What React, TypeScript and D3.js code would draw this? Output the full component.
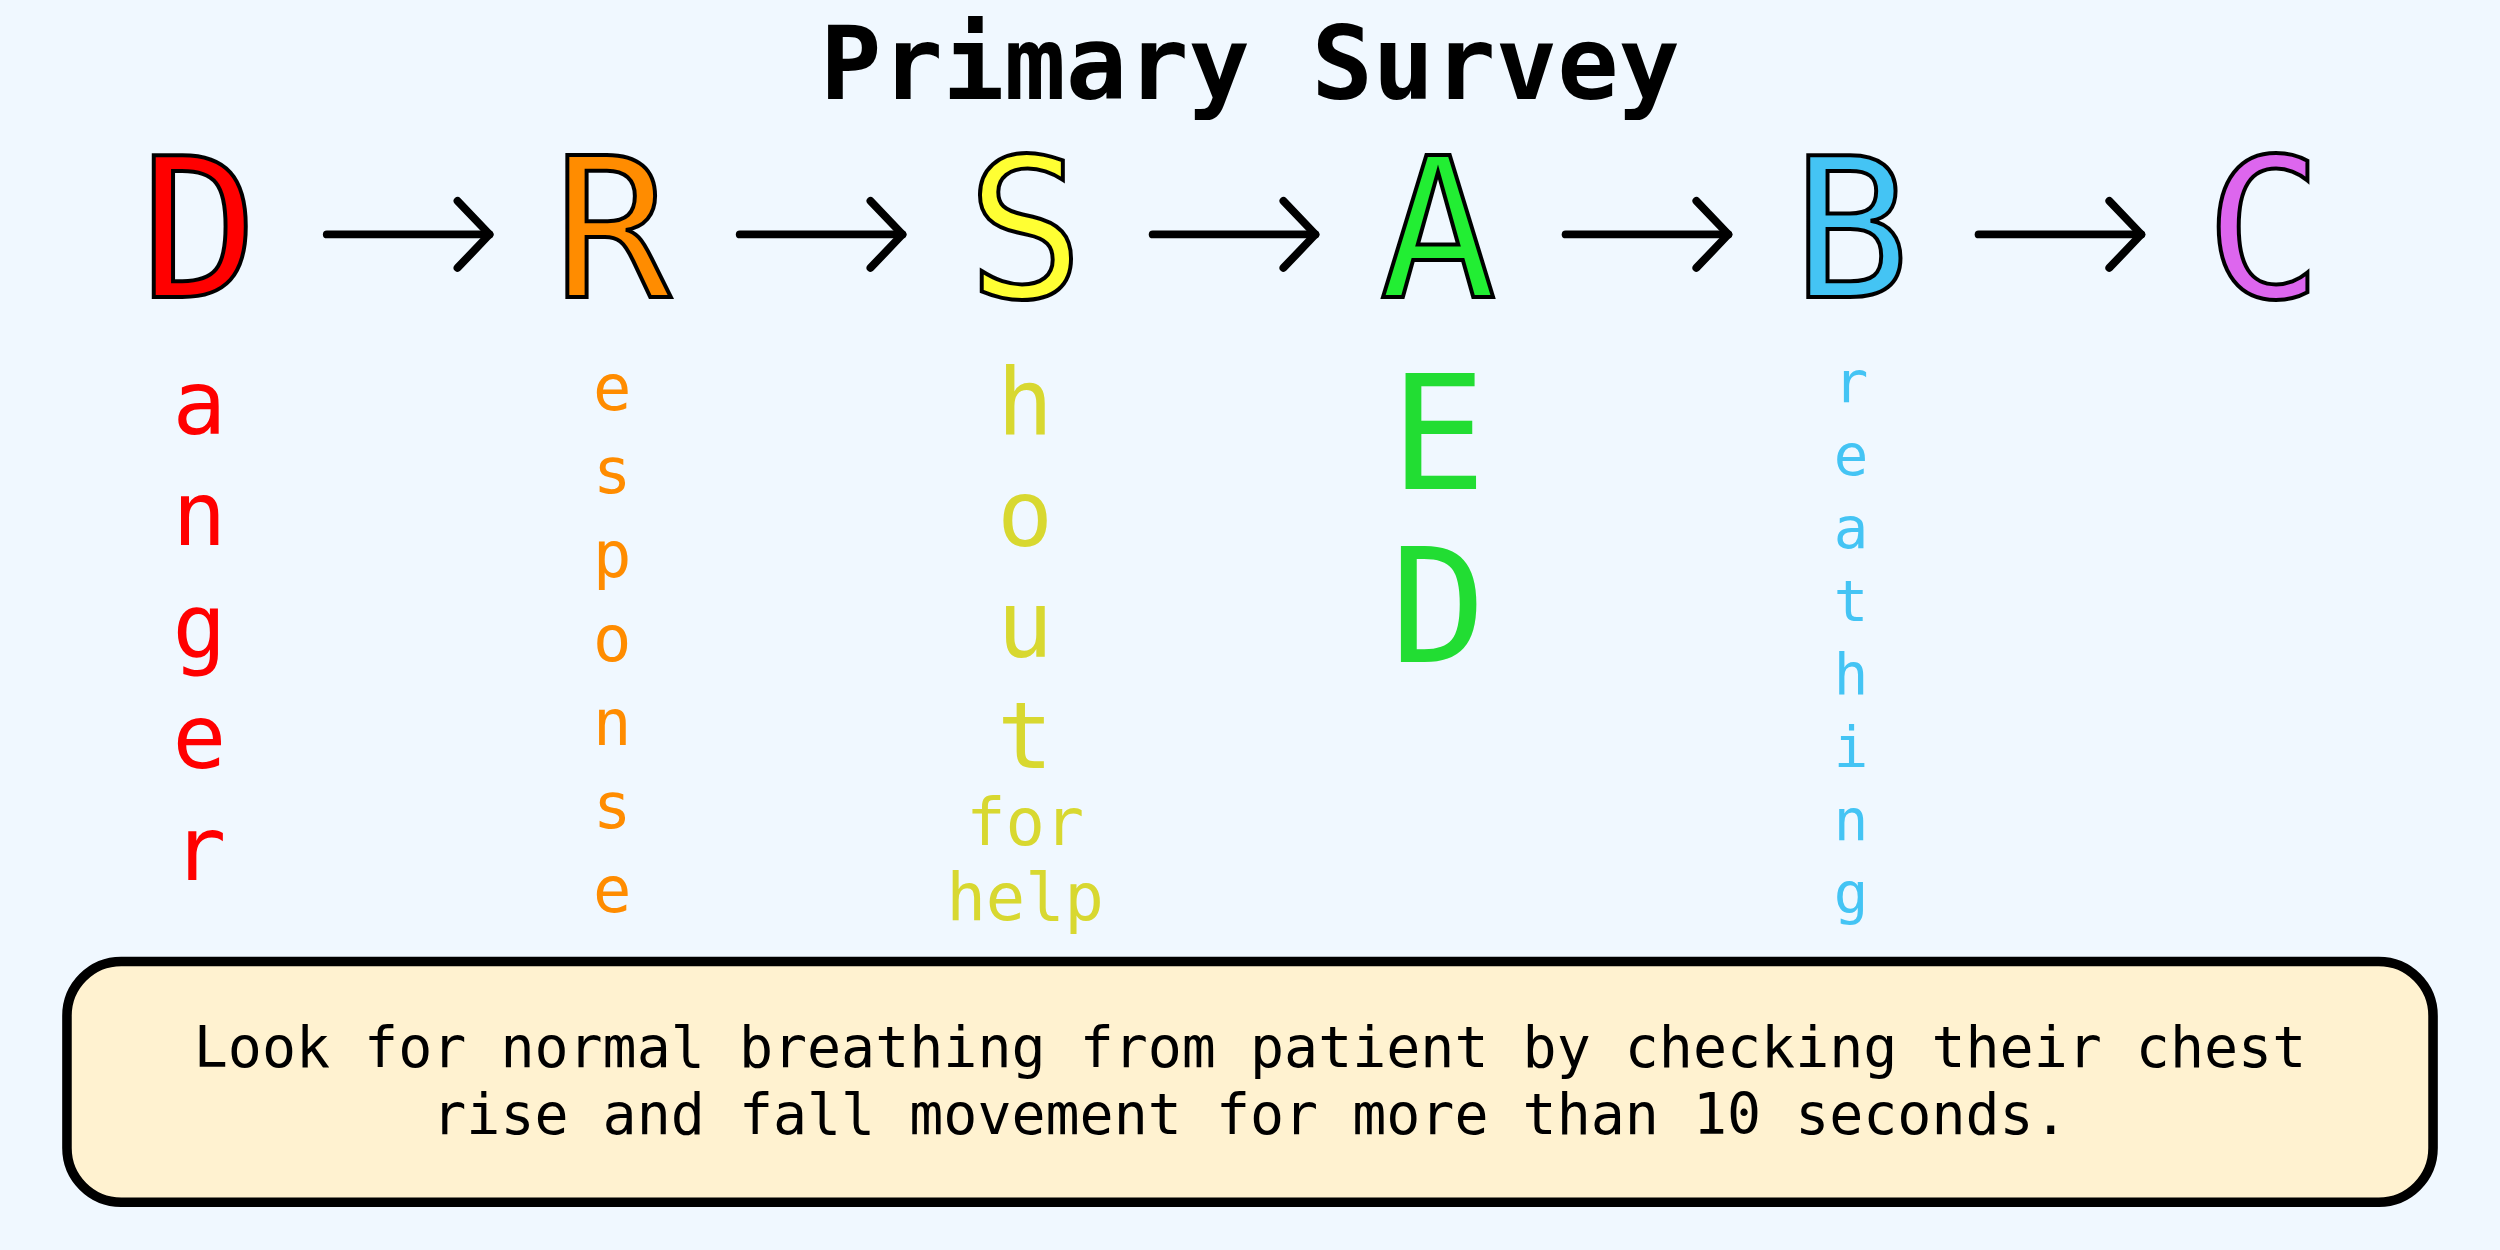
import React from "react";
import * as d3 from "d3";

const letters = ["D", "R", "S", "A", "B", "C"];
const letterColors = ["#ff0000", "#ff8c00", "#ffff33", "#22ee33", "#44c4f4", "#dd66ee"];
const words: string[][] = [
  ["a", "n", "g", "e", "r"],
  ["e", "s", "p", "o", "n", "s", "e"],
  ["h", "o", "u", "t"],
  ["E", "D"],
  ["r", "e", "a", "t", "h", "i", "n", "g"],
  [],
];
const wordColors = ["#ff0000", "#ff8c00", "#d8d830", "#22dd33", "#44c4f4", "#dd66ee"];
const extra = ["for", "help"];
const note = [
  "Look for normal breathing from patient by checking their chest",
  "rise and fall movement for more than 10 seconds.",
];

const W = 1568, H = 784;
const mono = "'DejaVu Sans Mono', monospace";

export default function App() {
  const x = d3.scalePoint<string>().domain(letters).range([125, 1420]);
  // per-column font size, first baseline and step
  const cfg = [
    { size: 56, y0: 272, step: 70 },
    { size: 40, y0: 257, step: 52.5 },
    { size: 58, y0: 273, step: 69.5 },
    { size: 100, y0: 307, step: 108 },
    { size: 36, y0: 252, step: 45.8 },
    { size: 40, y0: 260, step: 50 },
  ];
  return (
    <svg width={2500} height={1250} viewBox={`0 0 ${W} ${H}`}
      style={{ position: "absolute", left: 0, top: 0, background: "#f0f8ff" }}>
      <defs>
        <marker id="ah" viewBox="0 0 10 10" refX="9" refY="5" markerWidth="6" markerHeight="6" orient="auto" markerUnits="userSpaceOnUse">
        </marker>
      </defs>
      <rect width={W} height={H} fill="#f0f8ff" />
      <text x={784} y={62} textAnchor="middle" fontFamily={mono} fontWeight="bold" fontSize={64}>Primary Survey</text>
      {letters.map((l, i) => (
        <text key={l} x={x(l)} y={186} textAnchor="middle" fontFamily={mono} fontSize={122}
          fill={letterColors[i]} stroke="#000" strokeWidth={2.5}>{l}</text>
      ))}
      {letters.slice(0, -1).map((l, i) => {
        const x0 = x(l)! + 80, x1 = x(letters[i + 1])! - 77;
        return (
          <g key={"a" + i} stroke="#000" strokeWidth={5} fill="none" strokeLinecap="round">
            <line x1={x0} y1={147} x2={x1} y2={147} />
            <polyline points={`${x1 - 20},${126} ${x1},${147} ${x1 - 20},${168}`} strokeLinejoin="round" />
          </g>
        );
      })}
      {words.map((w, i) =>
        w.map((c, j) => (
          <text key={i + "-" + j} x={x(letters[i])} y={cfg[i].y0 + j * cfg[i].step} textAnchor="middle"
            fontFamily={mono} fontSize={cfg[i].size} fill={wordColors[i]}>{c}</text>
        ))
      )}
      {extra.map((t, j) => (
        <text key={t} x={x("S")} y={530 + j * 47} textAnchor="middle" fontFamily={mono} fontSize={41} fill={wordColors[2]}>{t}</text>
      ))}
      <rect x={42} y={603} width={1484} height={151} rx={34} fill="#fff2d0" stroke="#000" strokeWidth={6} />
      {note.map((t, j) => (
        <text key={j} x={784} y={669 + j * 42} textAnchor="middle" fontFamily={mono} fontSize={35.5}>{t}</text>
      ))}
    </svg>
  );
}
